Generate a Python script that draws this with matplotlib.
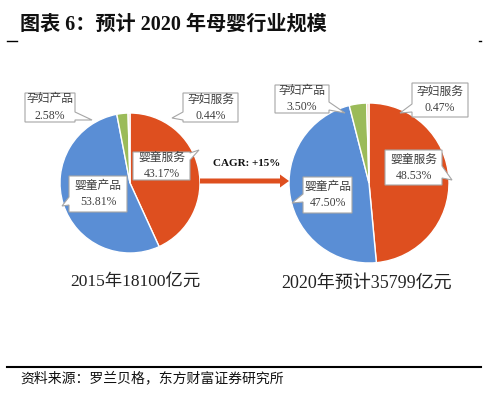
import matplotlib
matplotlib.use("Agg")
import matplotlib.pyplot as plt
from matplotlib.patches import FancyArrow, Polygon

plt.rcParams['font.family'] = ['Liberation Serif', 'Noto Sans CJK SC', 'DejaVu Sans']

categories = ['婴童服务', '婴童产品', '孕妇产品', '孕妇服务']
share_2015 = [43.17, 53.81, 2.58, 0.44]
share_2020 = [48.53, 47.50, 3.50, 0.47]
caption_2015 = '2015年18100亿元'
caption_2020 = '2020年预计35799亿元'
cagr_text = 'CAGR: +15%'
title = '图表 6：预计 2020 年母婴行业规模'
source = '资料来源：罗兰贝格，东方财富证券研究所'

colors = ['#DE4F1F', '#5A8ED5', '#9BBB59', '#F6CDB0']

W, H = 497, 395
fig = plt.figure(figsize=(W / 100, H / 100), dpi=100)
ax = fig.add_axes([0, 0, 1, 1])


def Y(y):
    return H - y


# pies
ax.pie(share_2015, colors=colors, startangle=90, counterclock=False,
       center=(130, Y(183)), radius=70, frame=False,
       wedgeprops=dict(edgecolor='white', linewidth=1.0))
ax.pie(share_2020, colors=colors, startangle=90, counterclock=False,
       center=(369, Y(183)), radius=80, frame=False,
       wedgeprops=dict(edgecolor='white', linewidth=1.0))
ax.set_xlim(0, W)
ax.set_ylim(0, H)
ax.set_aspect('auto')
ax.axis('off')

# callout boxes: (x0, x1, y0, y1), pointer side, base y0, base y1, tip
callouts_2015 = [((133, 190, 152, 180), 'r', 153, 160, (199, 150)),
                 ((69, 127, 176, 212), 'l', 197, 205, (62, 206)),
                 ((25, 75, 93, 122), 'r', 112, 120, (92, 120)),
                 ((183, 238, 93, 122), 'l', 112, 120, (172, 118))]
callouts_2020 = [((385, 442, 150, 185), 'r', 166, 178, (452, 180)),
                 ((303, 352, 177, 213), 'l', 194, 202, (292, 203)),
                 ((275, 329, 85, 113), 'r', 102, 110, (345, 113)),
                 ((412, 468, 83, 117), 'l', 104, 112, (400, 113))]


def callout(rect, side, b0, b1, tip, txt):
    x0, x1, y0, y1 = rect
    if side == 'r':
        pts = [(x0, y0), (x1, y0), (x1, b0), tip, (x1, b1), (x1, y1), (x0, y1)]
    else:
        pts = [(x0, y0), (x1, y0), (x1, y1), (x0, y1), (x0, b1), tip, (x0, b0)]
    pts = [(px, Y(py)) for px, py in pts]
    ax.add_patch(Polygon(pts, closed=True, fc='white', ec='#A6A6A6', lw=0.8, zorder=5))
    ax.text((x0 + x1) / 2, Y((y0 + y1) / 2), txt, ha='center', va='center',
            fontsize=8.5, color='#404040', linespacing=1.45, zorder=6)


for vals, cs in ((share_2015, callouts_2015), (share_2020, callouts_2020)):
    for cat, v, (rect, side, b0, b1, tip) in zip(categories, vals, cs):
        callout(rect, side, b0, b1, tip, f'{cat}\n{v:.2f}%')

ax.text(135, Y(283), caption_2015, ha='center', va='center', fontsize=12.5, color='#222222')
ax.text(367, Y(283), caption_2020, ha='center', va='center', fontsize=13, color='#222222')

# growth arrow
ax.add_patch(FancyArrow(200, Y(181), 80, 0, width=5, head_width=13, head_length=9,
                        length_includes_head=False, color='#DE4F1F', lw=0))
ax.text(247, Y(163), cagr_text, ha='center', va='center', fontsize=8,
        fontweight='bold', color='#111111')

# title and rules
ax.text(20, Y(25), title, ha='left', va='center', fontsize=14.5,
        fontweight='bold', color='#111111')
ax.plot([7, 17], [Y(41), Y(41)], color='black', lw=1)
ax.plot([479, 481], [Y(41), Y(41)], color='black', lw=1)
ax.plot([7, 481], [Y(367), Y(367)], color='black', lw=1.5)
ax.text(20, Y(378), source, ha='left', va='center', fontsize=10, color='#111111')

fig.savefig('out.png', dpi=100)
